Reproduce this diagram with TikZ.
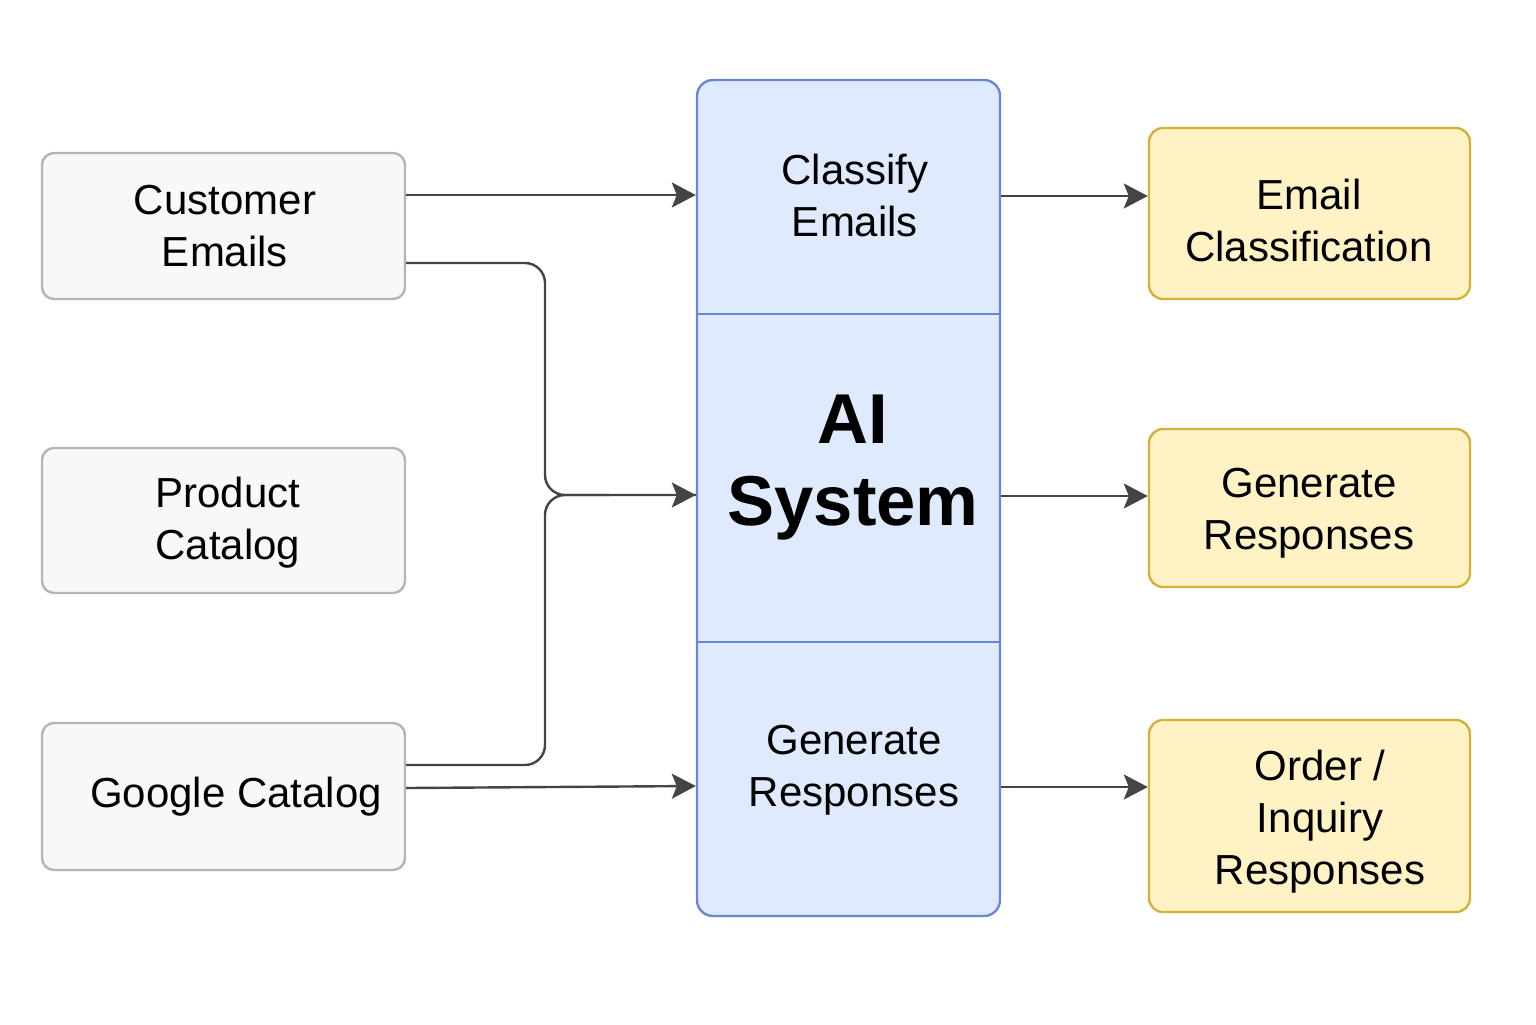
\documentclass[tikz,border=0pt]{standalone}
\usepackage{fontspec}
\setmainfont{Liberation Sans}
\usetikzlibrary{arrows.meta,calc}
\definecolor{gfill}{HTML}{F8F8F8}
\definecolor{gline}{HTML}{B5B5B5}
\definecolor{bfill}{HTML}{DFEBFD}
\definecolor{bline}{HTML}{6B87D4}
\definecolor{yfill}{HTML}{FFF3C6}
\definecolor{yline}{HTML}{D4B13C}
\definecolor{arrc}{HTML}{444444}
\begin{document}
\begin{tikzpicture}[x=0.5pt,y=-0.5pt,
  graybox/.style={draw=gline,fill=gfill,line width=1.2pt,rounded corners=6pt,minimum width=181.5pt,inner sep=0pt},
  yelbox/.style={draw=yline,fill=yfill,line width=1.2pt,rounded corners=7pt,minimum width=160.5pt,inner sep=0pt},
  aibox/.style={draw=bline,fill=bfill,line width=1.2pt,rounded corners=8pt,minimum width=151.5pt,minimum height=418pt,inner sep=0pt},
  lbl/.style={font=\fontsize{21pt}{26pt}\selectfont,align=center,inner sep=0pt},
  biglbl/.style={font=\fontsize{35.3pt}{41pt}\selectfont\bfseries,align=center,inner sep=0pt},
  arr/.style={draw=arrc,line width=1.2pt,-{Stealth[length=12pt,width=12.5pt,inset=2.5pt]}},
  conn/.style={draw=arrc,line width=1.2pt}]
\useasboundingbox (0,0) rectangle (1536,1024);
% left boxes
\node[graybox,minimum height=73pt] (ce) at (223.5,226) {};
\node[graybox,minimum height=72.5pt] (pc) at (223.5,520.5) {};
\node[graybox,minimum height=73.5pt] (gc) at (223.5,796.5) {};
% AI box
\node[aibox] (ai) at (848.5,498) {};
\draw[bline,line width=1.2pt] (ai.west |- 0,314) -- (ai.east |- 0,314);
\draw[bline,line width=1.2pt] (ai.west |- 0,642) -- (ai.east |- 0,642);
% right boxes
\node[yelbox,minimum height=85.5pt] (ec) at (1309.5,213.5) {};
\node[yelbox,minimum height=79pt] (gr) at (1309.5,508) {};
\node[yelbox,minimum height=96pt] (oi) at (1309.5,816) {};
% labels
\node[lbl] (tce) at (225,226) {Customer\\Emails};
\node[lbl] (tpc) at (228,523) {Product\\Catalog};
\node[lbl] (tgc) at (236,797) {Google Catalog};
\node[lbl] (tcl) at (855,195) {Classify\\ Emails};
\node[biglbl] (tai) at (853,468) {AI\\System};
\node[lbl] (tgen) at (854,770) {Generate\\Responses};
\node[lbl] (tec) at (1309,220) {Email\\Classification};
\node[lbl] (tgr) at (1309,513) {Generate\\Responses};
\node[lbl] (toi) at (1320,822) {Order /\\Inquiry\\Responses};
% connectors
\coordinate (y1) at (0,195);
\coordinate (y2) at (0,263);
\coordinate (ym) at (0,495);
\coordinate (y3) at (0,765);
\coordinate (xb) at (545,0);
\coordinate (mrg) at (610,495);
\draw[arr] (ce.east |- y1) -- (ai.west |- y1);
\draw[conn,rounded corners=10pt] (ce.east |- y2) -- (xb |- y2) -- (xb |- ym) -- (ai.west |- ym);
\draw[arr] (mrg) -- (ai.west |- ym);
\draw[conn,rounded corners=10pt] (gc.east |- y3) -- (xb |- y3) -- (xb |- ym) -- (mrg);
\draw[arr] ($(gc.east)+(0,-8.5)$) -- ($(ai.west |- 0,786)$);
\draw[arr] (ai.east |- 0,196) -- (ec.west |- 0,196);
\draw[arr] (ai.east |- 0,496) -- (gr.west |- 0,496);
\draw[arr] (ai.east |- 0,787) -- (oi.west |- 0,787);
\end{tikzpicture}
\end{document}
